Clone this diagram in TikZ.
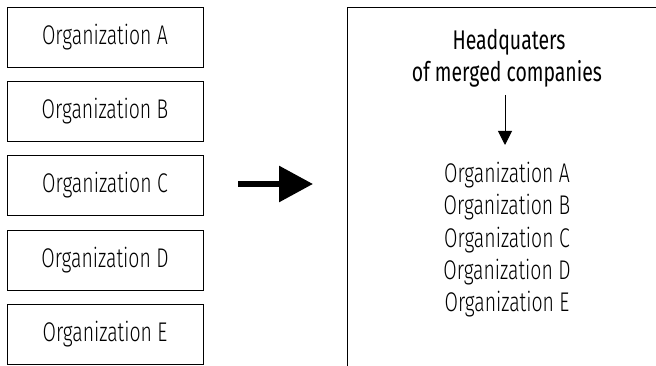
\documentclass[tikz,border=0pt]{standalone}
\usepackage{fontspec}
\setmainfont{Fira Sans}[UprightFont=* Light, BoldFont=*, FakeStretch=0.72]
\newfontfamily\hqfont{Fira Sans}[FakeStretch=0.72]
\usetikzlibrary{arrows.meta}
\begin{document}
\begin{tikzpicture}[x=1pt,y=1pt,
    orgbox/.style={draw, line width=0.8pt, minimum width=196pt, minimum height=60pt, inner sep=0pt, font=\fontsize{27}{30}\selectfont},
    orgline/.style={inner sep=0pt, font=\fontsize{27}{30}\selectfont},
    hqline/.style={inner sep=0pt, anchor=base, font=\hqfont\fontsize{27}{30}\selectfont}]
    \useasboundingbox (0,0) rectangle (656,366);
    % organizations before the merger
    \foreach \n/\y/\t in {orgA/329/A, orgB/255/B, orgC/180.5/C, orgD/106/D, orgE/32/E}
    {
        \node[orgbox] (\n) at (105,\y) {Organization \t};
    }
    % frame of the headquarters
    \coordinate (frameBL) at (347,0);
    \coordinate (frameTL) at (347,359);
    \coordinate (frameTR) at (656,359);
    \draw[line width=0.8pt] (frameBL) -- (frameTL) -- (frameTR);
    \node[hqline] (hqA) at (509,316) {Headquaters};
    \node[hqline] (hqB) at (507,284) {of merged companies};
    \foreach \n/\y/\t in {listA/191/A, listB/158.5/B, listC/126/C, listD/94/D, listE/61.5/E}
    {
        \node[orgline] (\n) at (507,\y) {Organization \t};
    }
    % arrows
    \coordinate (smallFrom) at (505,271);
    \coordinate (smallTo) at (505,221);
    \draw[line width=1pt, -{Triangle[length=14pt,width=14pt]}] (smallFrom) -- (smallTo);
    \coordinate (bigFrom) at (238,182);
    \coordinate (bigTo) at (313,182);
    \draw[line width=6pt, -{Triangle[length=34pt,width=35pt]}] (bigFrom) -- (bigTo);
\end{tikzpicture}
\end{document}
